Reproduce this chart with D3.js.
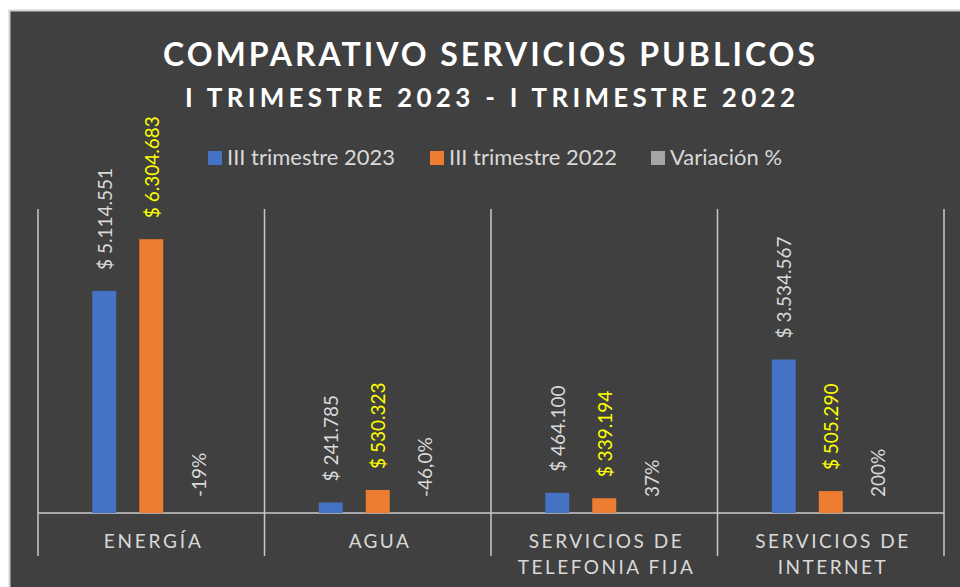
<!DOCTYPE html>
<html><head><meta charset="utf-8">
<script src="https://cdn.jsdelivr.net/npm/d3@7"></script>
<style>
html,body{margin:0;padding:0;background:#fff;}
svg{display:block;font-family:Lato,"Open Sans",sans-serif;}
</style></head>
<body>
<svg id="c" width="960" height="587"></svg>
<script>
const categories = [["ENERGÍA"], ["AGUA"], ["SERVICIOS DE", "TELEFONIA FIJA"], ["SERVICIOS DE", "INTERNET"]];
const seriesNames = ["III trimestre 2023", "III trimestre 2022", "Variación %"];
const values2023 = [5114551, 241785, 464100, 3534567];
const values2022 = [6304683, 530323, 339194, 505290];
const variacion = [-0.19, -0.46, 0.37, 2.00];
const labels2023 = ["$ 5.114.551", "$ 241.785", "$ 464.100", "$ 3.534.567"];
const labels2022 = ["$ 6.304.683", "$ 530.323", "$ 339.194", "$ 505.290"];
const labelsVar = ["-19%", "-46,0%", "37%", "200%"];
const yDomain = [0, 7000000];

const colors = ["#4472c4", "#ed7d31", "#a5a5a5"];
const labelColors = ["#d9d9d9", "#ffff00", "#d9d9d9"];
const svg = d3.select("#c");

svg.append("rect").attr("x", 9.5).attr("y", 10.5).attr("width", 960).attr("height", 587)
  .attr("fill", "#404040").attr("stroke", "#d0d0d0").attr("stroke-width", 2);

// Title
svg.append("text").attr("x", 489).attr("y", 66).attr("text-anchor", "middle")
  .attr("fill", "#ffffff").attr("font-weight", "bold").attr("font-size", 32)
  .attr("textLength", 652).attr("lengthAdjust", "spacing")
  .text("COMPARATIVO SERVICIOS PUBLICOS");
svg.append("text").attr("x", 490).attr("y", 107).attr("text-anchor", "middle")
  .attr("fill", "#ffffff").attr("font-weight", "bold").attr("font-size", 26)
  .attr("textLength", 610).attr("lengthAdjust", "spacing")
  .text("I TRIMESTRE 2023 - I TRIMESTRE 2022");

// Legend
const legendX = [208, 430, 651];
const legendW = [168, 168, 112];
const lg = svg.append("g");
seriesNames.forEach((n, i) => {
  lg.append("rect").attr("x", legendX[i]).attr("y", 151).attr("width", 14).attr("height", 14).attr("fill", colors[i]);
  lg.append("text").attr("x", legendX[i] + 19).attr("y", 165).attr("fill", "#d9d9d9")
    .attr("font-size", 21).attr("textLength", legendW[i]).attr("lengthAdjust", "spacingAndGlyphs").text(n);
});

const x0 = d3.scaleBand().domain(d3.range(categories.length)).range([38, 944]).padding(0);
const bw = x0.bandwidth();
const x1 = d3.scaleBand().domain(d3.range(3)).range([bw / 2 - 70.5, bw / 2 + 70.5])
  .paddingInner(0.49).paddingOuter(0.245);
const y = d3.scaleLinear().domain(yDomain).range([513, 209]);

const seriesVals = [values2023, values2022, variacion];
const seriesLabels = [labels2023, labels2022, labelsVar];

// grid / axis lines
const axisG = svg.append("g");
const bounds = x0.domain().map(d => x0(d)).concat([x0.range()[1]]);
bounds.forEach(b => {
  axisG.append("line").attr("x1", b).attr("x2", b).attr("y1", 209).attr("y2", 556)
    .attr("stroke", "#c8c8c8").attr("stroke-width", 1.5);
});

// bars
seriesVals.forEach((vals, s) => {
  const g = svg.append("g");
  vals.forEach((v, i) => {
    const bx = x0(i) + x1(s);
    const top = Math.min(y(v), y(0));
    const h = Math.abs(y(v) - y(0));
    g.append("rect").attr("x", bx).attr("y", top).attr("width", x1.bandwidth()).attr("height", h)
      .attr("fill", colors[s]);
    const off = s === 2 ? 16 : 21;
    const ly = Math.min(y(Math.max(v, 0)), y(0)) - off;
    const lx = bx + x1.bandwidth() / 2;
    g.append("text").attr("transform", `translate(${lx},${ly}) rotate(-90)`)
      .attr("dominant-baseline", "central").attr("text-anchor", "start")
      .attr("fill", labelColors[s]).attr("font-size", 19).text(seriesLabels[s][i]);
  });
});

axisG.append("line").attr("x1", 38).attr("x2", 944).attr("y1", 513).attr("y2", 513)
  .attr("stroke", "#c8c8c8").attr("stroke-width", 1.5);

// category labels
const catW = {"ENERGÍA": 97, "AGUA": 60, "SERVICIOS DE": 153, "TELEFONIA FIJA": 175, "INTERNET": 108};
categories.forEach((lines, i) => {
  lines.forEach((t, j) => {
    svg.append("text").attr("x", x0(i) + bw / 2 + 1).attr("y", 548 + j * 26)
      .attr("text-anchor", "middle").attr("fill", "#d9d9d9").attr("font-size", 19)
      .attr("textLength", catW[t]).attr("lengthAdjust", "spacing").text(t);
  });
});
</script>
</body></html>
